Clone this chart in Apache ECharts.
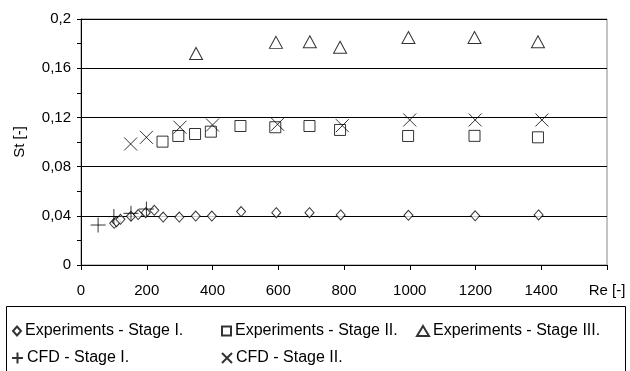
<!DOCTYPE html>
<html>
<head>
<meta charset="utf-8">
<script src="https://cdn.jsdelivr.net/npm/echarts@6/dist/echarts.min.js"></script>
<style>html,body{margin:0;padding:0;background:#fff}#c{width:630px;height:371px}</style>
</head>
<body>
<div id="c"></div>
<script>
// Data (Re, St)
var expStage1 = [[101,0.0339],[108,0.0352],[120,0.0371],[152,0.0396],[174,0.0410],[197,0.0425],[223,0.0445],[250,0.0390],[299,0.0390],[349,0.0398],[398,0.0398],[487,0.0434],[594,0.0425],[695,0.0425],[790,0.0407],[996,0.0404],[1199,0.0400],[1392,0.0407]];
var expStage2 = [[248,0.1003],[296,0.1049],[347,0.1065],[395,0.1084],[485,0.1130],[591,0.1120],[695,0.1130],[788,0.1098],[995,0.1049],[1197,0.1050],[1390,0.1038]];
var expStage3 = [[350,0.1720],[593,0.1810],[696,0.1815],[788,0.1770],[996,0.1850],[1197,0.1850],[1390,0.1815]];
var cfdStage1 = [[52,0.0325],[100,0.0394],[152,0.0420],[199,0.0455]];
var cfdStage2 = [[151,0.0984],[199,0.1038],[301,0.1120],[400,0.1138],[598,0.1144],[795,0.1133],[1000,0.1179],[1199,0.1179],[1402,0.1179]];
var seriesNames = ['Experiments - Stage I.','Experiments - Stage II.','Experiments - Stage III.','CFD - Stage I.','CFD - Stage II.'];
var xTicks = {min:0, max:1600, interval:200, lastLabel:'Re [-]'};
var yTicks = {min:0, max:0.2, interval:0.04};

var FONT = 'Liberation Sans';
var FS = 15;
var LFS = 16;
var PLUS = 'path://M0,5L10,5M5,0L5,10';
var CROSS = 'path://M0,0L10,10M0,10L10,0';
var hollow = {color:'#fff', borderColor:'#000', borderWidth:1};
var lineStyleSym = {color:'rgba(0,0,0,0)', borderColor:'#000', borderWidth:1};

function legendAt(name, icon, left, top, w, h){
  return {data:[name], left:left, top:top, icon:icon, itemWidth:w, itemHeight:h, itemGap:0,
    padding:0, selectedMode:false,
    textStyle:{fontFamily:FONT, fontSize:LFS, color:'#000', padding:[0,0,0,-1]}};
}

var chart = echarts.init(document.getElementById('c'));
chart.setOption({
  animation:false,
  backgroundColor:'#fff',
  grid:{left:81, right:23, top:19, bottom:106, show:true, borderColor:'#888', borderWidth:1},
  xAxis:{type:'value', min:xTicks.min, max:xTicks.max, interval:xTicks.interval,
    axisLine:{show:true, onZero:false, lineStyle:{color:'#000'}},
    axisTick:{show:true, length:5, lineStyle:{color:'#000'}},
    splitLine:{show:false},
    axisLabel:{fontFamily:FONT, fontSize:FS, color:'#000', margin:18, showMaxLabel:true,
      formatter:function(v){return v===xTicks.max ? xTicks.lastLabel : String(v);}}},
  yAxis:{type:'value', min:yTicks.min, max:yTicks.max, interval:yTicks.interval,
    name:'St [-]', nameLocation:'middle', nameRotate:90, nameGap:54,
    nameTextStyle:{fontFamily:FONT, fontSize:FS, color:'#000'},
    axisLine:{show:true, lineStyle:{color:'#000'}},
    axisTick:{show:true, length:4, lineStyle:{color:'#000'}},
    minorTick:{show:true, splitNumber:2, length:4, lineStyle:{color:'#000'}},
    splitLine:{show:true, lineStyle:{color:'#000', width:1}},
    axisLabel:{fontFamily:FONT, fontSize:FS, color:'#000', margin:10,
      formatter:function(v){return String(+(+v).toFixed(2)).replace('.',',');}}},
  legend:[
    legendAt(seriesNames[0],'diamond',12,323,8,9),
    legendAt(seriesNames[1],'rect',221,323,9,9),
    legendAt(seriesNames[2],'triangle',416,323,12,10),
    legendAt(seriesNames[3],PLUS,11,350,11,11),
    legendAt(seriesNames[4],CROSS,221,350,10,10)
  ],
  graphic:[{type:'rect', shape:{x:6.5, y:306.5, width:619, height:80}, style:{fill:'none', stroke:'#000', lineWidth:1}, z:-1}],
  series:[
    {name:seriesNames[0], type:'scatter', data:expStage1, symbol:'diamond', symbolSize:[9,10], itemStyle:hollow, z:3},
    {name:seriesNames[1], type:'scatter', data:expStage2, symbol:'rect', symbolSize:11, itemStyle:hollow, z:2},
    {name:seriesNames[2], type:'scatter', data:expStage3, symbol:'triangle', symbolSize:[13,12], itemStyle:hollow, z:2},
    {name:seriesNames[3], type:'scatter', data:cfdStage1, symbol:PLUS, symbolSize:15, itemStyle:lineStyleSym, z:4},
    {name:seriesNames[4], type:'scatter', data:cfdStage2, symbol:CROSS, symbolSize:13, itemStyle:lineStyleSym, z:4}
  ]
});
</script>
</body>
</html>
